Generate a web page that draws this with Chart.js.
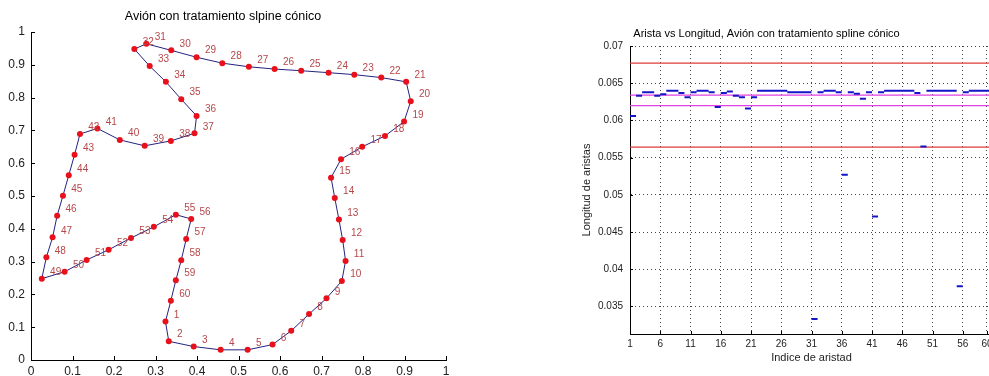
<!DOCTYPE html>
<html lang="es">
<head>
  <meta charset="UTF-8">
  <title>Avión con tratamiento spline cónico</title>
  <script src="https://cdn.jsdelivr.net/npm/chart.js"></script>
  <style>
    html, body {
      margin: 0;
      padding: 0;
      background: #fff;
      width: 989px;
      height: 376px;
      overflow: hidden;
    }
    .box {
      position: absolute;
      top: 0;
      height: 376px;
    }
    #shapeBox { left: 0; width: 470px; }
    #lenBox { left: 540px; width: 470px; }
  </style>
</head>
<body>
  <div class="box" id="shapeBox"><canvas id="shapeChart"></canvas></div>
  <div class="box" id="lenBox"><canvas id="lenChart"></canvas></div>

  <script>
    // outline points 1..60 of the plane
    const shapeX = [0.324, 0.332, 0.392, 0.457, 0.522, 0.582, 0.627, 0.670, 0.712, 0.749,
                    0.758, 0.751, 0.742, 0.732, 0.723, 0.747, 0.798, 0.853, 0.899, 0.915,
                    0.904, 0.844, 0.779, 0.717, 0.651, 0.587, 0.525, 0.461, 0.399, 0.338,
                    0.278, 0.249, 0.286, 0.325, 0.362, 0.399, 0.394, 0.337, 0.274, 0.214,
                    0.160, 0.118, 0.105, 0.091, 0.077, 0.063, 0.052, 0.037, 0.026, 0.081,
                    0.134, 0.187, 0.241, 0.296, 0.349, 0.386, 0.374, 0.362, 0.349, 0.337];
    const shapeY = [0.117, 0.057, 0.041, 0.031, 0.031, 0.047, 0.089, 0.140, 0.188, 0.241,
                    0.302, 0.366, 0.428, 0.494, 0.556, 0.612, 0.650, 0.683, 0.727, 0.789,
                    0.848, 0.861, 0.870, 0.876, 0.882, 0.887, 0.894, 0.905, 0.923, 0.944,
                    0.964, 0.948, 0.896, 0.848, 0.795, 0.744, 0.691, 0.668, 0.653, 0.671,
                    0.706, 0.689, 0.626, 0.563, 0.501, 0.440, 0.374, 0.313, 0.248, 0.269,
                    0.305, 0.336, 0.372, 0.406, 0.443, 0.430, 0.369, 0.304, 0.243, 0.181];
    const shapeTicks = [0, 0.1, 0.2, 0.3, 0.4, 0.5, 0.6, 0.7, 0.8, 0.9, 1];
    const shapeTickLabels = ['0', '0.1', '0.2', '0.3', '0.4', '0.5', '0.6', '0.7', '0.8', '0.9', '1'];
    const labelShift = 0.02;

    // length of every edge i (drawn from i to i+1)
    const edgeLengths = [0.0606, 0.0633, 0.0638, 0.0638, 0.0633, 0.0635, 0.0640, 0.0640, 0.0637, 0.0631,
                         0.0638, 0.0640, 0.0640, 0.0638, 0.0618, 0.0637, 0.0639, 0.0633, 0.0631, 0.0616,
                         0.0631, 0.0640, 0.0640, 0.0640, 0.0640, 0.0640, 0.0638, 0.0638, 0.0638, 0.0638,
                         0.0333, 0.0638, 0.0640, 0.0640, 0.0638, 0.0527, 0.0638, 0.0636, 0.0629, 0.0638,
                         0.0471, 0.0638, 0.0640, 0.0640, 0.0640, 0.0640, 0.0640, 0.0637, 0.0565, 0.0640,
                         0.0640, 0.0640, 0.0640, 0.0640, 0.0377, 0.0638, 0.0640, 0.0640, 0.0640, 0.0640];
    const redLines = [0.0677, 0.0564];
    const magentaLines = [0.0634, 0.0620];
    const lenXTicks = [1, 6, 11, 16, 21, 26, 31, 36, 41, 46, 51, 56, 60];
    const lenXTickLabels = ['1', '6', '11', '16', '21', '26', '31', '36', '41', '46', '51', '56', '60'];
    const lenYTicks = [0.035, 0.04, 0.045, 0.05, 0.055, 0.06, 0.065, 0.07];
    const lenYTickLabels = ['0.035', '0.04', '0.045', '0.05', '0.055', '0.06', '0.065', '0.07'];

    const FONT = '"Liberation Sans", Arial, sans-serif';
    Chart.defaults.font.family = FONT;
    Chart.defaults.color = '#222';

    // MATLAB style ticks, pointing into the plot
    const innerTicks = {
      id: 'innerTicks',
      afterDraw(chart, args, opts) {
        const { ctx, chartArea: a } = chart;
        const len = opts.length || 4;
        ctx.save();
        ctx.strokeStyle = '#000';
        ctx.lineWidth = 1;
        ctx.beginPath();
        chart.scales.x.ticks.forEach(t => {
          const p = Math.round(chart.scales.x.getPixelForValue(t.value)) + 0.5;
          ctx.moveTo(p, a.bottom);
          ctx.lineTo(p, a.bottom - len);
        });
        chart.scales.y.ticks.forEach(t => {
          const p = Math.round(chart.scales.y.getPixelForValue(t.value)) + 0.5;
          ctx.moveTo(a.left, p);
          ctx.lineTo(a.left + len, p);
        });
        ctx.stroke();
        ctx.restore();
      }
    };

    // point numbers next to each outline point
    const pointNumbers = {
      id: 'pointNumbers',
      afterDatasetsDraw(chart) {
        const { ctx, scales: { x, y } } = chart;
        ctx.save();
        ctx.font = '10px ' + FONT;
        ctx.fillStyle = '#b5474a';
        ctx.textAlign = 'left';
        ctx.textBaseline = 'middle';
        shapeX.forEach((v, i) => {
          ctx.fillText(String(i + 1), x.getPixelForValue(v + labelShift), y.getPixelForValue(shapeY[i] + labelShift));
        });
        ctx.restore();
      }
    };

    // Left chart: plane outline
    const shapePoints = shapeX.map((x, i) => ({ x: x, y: shapeY[i] }));
    const outline = shapePoints.concat([shapePoints[0]]);

    new Chart(document.getElementById('shapeChart'), {
      type: 'scatter',
      data: {
        datasets: [
          {
            data: shapePoints,
            showLine: false,
            pointRadius: 3,
            pointBackgroundColor: '#e8111b',
            pointBorderWidth: 0,
            order: 0
          },
          {
            data: outline,
            showLine: true,
            borderColor: '#23237f',
            borderWidth: 1,
            pointRadius: 0,
            order: 1
          }
        ]
      },
      options: {
        animation: false,
        responsive: true,
        maintainAspectRatio: false,
        layout: { padding: { left: 0, right: 24, top: 0, bottom: 0 } },
        plugins: {
          legend: { display: false },
          tooltip: { enabled: false },
          title: {
            display: true,
            text: 'Avión con tratamiento slpine cónico',
            color: '#000',
            font: { size: 12.5, weight: 'normal' },
            padding: { top: 9, bottom: 8 }
          },
          innerTicks: { length: 4 }
        },
        scales: {
          x: {
            type: 'linear',
            min: 0,
            max: 1,
            grid: { display: false, drawTicks: false },
            border: { display: true, color: '#000', width: 1 },
            afterBuildTicks: s => { s.ticks = shapeTicks.map(v => ({ value: v })); },
            afterFit: s => { s.height = 16; },
            ticks: {
              callback: (v, i) => shapeTickLabels[i],
              font: { size: 12 },
              padding: 4,
              maxRotation: 0,
              autoSkip: false
            }
          },
          y: {
            type: 'linear',
            min: 0,
            max: 1,
            grid: { display: false, drawTicks: false },
            border: { display: true, color: '#000', width: 1 },
            afterBuildTicks: s => { s.ticks = shapeTicks.map(v => ({ value: v })); },
            afterFit: s => { s.width = 31; },
            ticks: {
              callback: (v, i) => shapeTickLabels[i],
              font: { size: 12 },
              padding: 6,
              autoSkip: false
            }
          }
        }
      },
      plugins: [innerTicks, pointNumbers]
    });

    // Right chart: edge length vs edge index
    const segments = [];
    edgeLengths.forEach((v, i) => {
      segments.push({ x: i + 1, y: v }, { x: i + 2, y: v }, { x: i + 2, y: null });
    });
    const xEnd = edgeLengths.length + 1;
    const hLine = (v, color) => ({
      data: [{ x: 1, y: v }, { x: xEnd, y: v }],
      showLine: true,
      borderColor: color,
      borderWidth: 1.2,
      pointRadius: 0,
      order: 1
    });

    new Chart(document.getElementById('lenChart'), {
      type: 'scatter',
      data: {
        datasets: [
          {
            data: segments,
            showLine: true,
            spanGaps: false,
            borderColor: '#1414c8',
            borderWidth: 2,
            pointRadius: 0,
            order: 0
          },
          ...redLines.map(v => hLine(v, '#e03a3a')),
          ...magentaLines.map(v => hLine(v, '#e040e0'))
        ]
      },
      options: {
        animation: false,
        responsive: true,
        maintainAspectRatio: false,
        layout: { padding: { left: 0, right: 17, top: 0, bottom: 0 } },
        plugins: {
          legend: { display: false },
          tooltip: { enabled: false },
          title: {
            display: true,
            text: 'Arista vs Longitud, Avión con tratamiento spline cónico',
            color: '#000',
            font: { size: 11, weight: 'normal' },
            padding: { top: 27, bottom: 5.8 }
          },
          innerTicks: { length: 3 }
        },
        scales: {
          x: {
            type: 'linear',
            min: 1,
            max: xEnd,
            grid: { display: true, drawTicks: false, color: '#444', lineWidth: 1 },
            border: { display: true, color: '#000', width: 1, dash: [1, 3] },
            afterBuildTicks: s => { s.ticks = lenXTicks.map(v => ({ value: v })); },
            afterFit: s => { s.height = 42; },
            ticks: {
              callback: (v, i) => lenXTickLabels[i],
              font: { size: 10 },
              padding: 4,
              maxRotation: 0,
              autoSkip: false
            },
            title: {
              display: true,
              text: 'Indice de aristad',
              color: '#222',
              font: { size: 11 },
              padding: { top: 0, bottom: 11.4 }
            }
          },
          y: {
            type: 'linear',
            min: 0.0313,
            max: 0.07,
            grid: { display: true, drawTicks: false, color: '#444', lineWidth: 1 },
            border: { display: true, color: '#000', width: 1, dash: [1, 3] },
            afterBuildTicks: s => { s.ticks = lenYTicks.map(v => ({ value: v })); },
            afterFit: s => { s.width = 90; },
            ticks: {
              callback: (v, i) => lenYTickLabels[i],
              font: { size: 10 },
              padding: 7,
              autoSkip: false
            },
            title: {
              display: true,
              text: 'Longitud de aristas',
              color: '#222',
              font: { size: 11 },
              padding: { top: 40, bottom: 0 }
            }
          }
        }
      },
      plugins: [innerTicks]
    });
  </script>
</body>
</html>
